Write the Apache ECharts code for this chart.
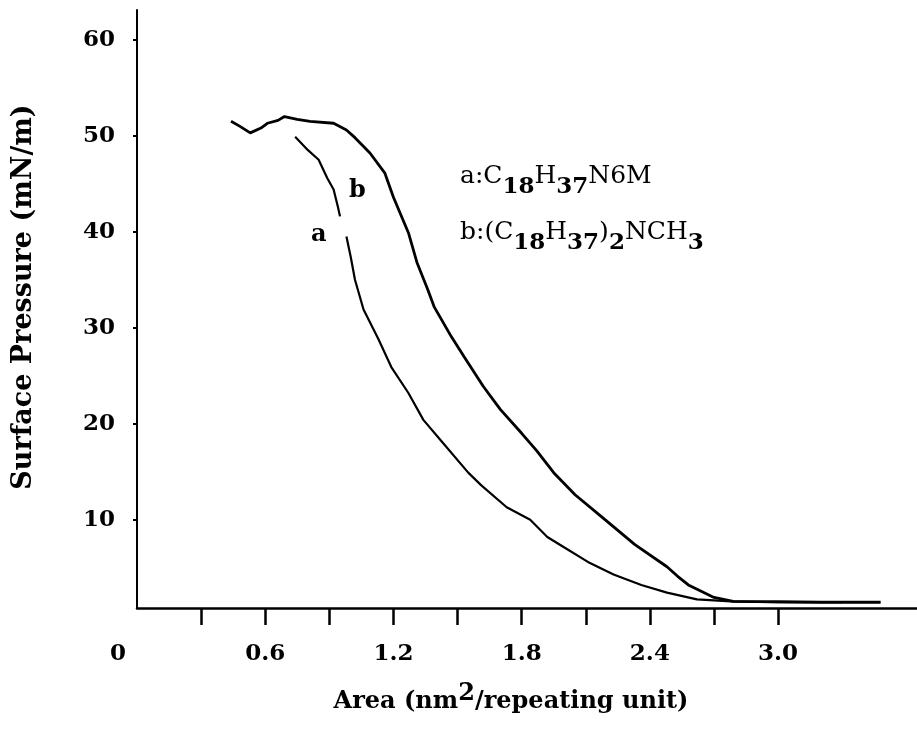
<!DOCTYPE html>
<html style="height: 100%">
<head>
    <meta charset="UTF-8" />
    <title>Surface pressure isotherms</title>
    <script src="https://cdn.jsdelivr.net/npm/echarts@6.0.0/dist/echarts.min.js"></script>
</head>
<body style="height: 100%; margin: 0; background: #fff">
    <div id="main" style="width: 917px; height: 741px; margin: 0"></div>
    <script type="text/javascript">
        // curve a: C18H37N6M  (null = gap in the trace)
        var aArea = [0.74, 0.80, 0.85, 0.89, 0.92, 0.94, 0.95, 0.965, 0.98, 1.00, 1.02, 1.06, 1.13, 1.19, 1.27, 1.34, 1.42, 1.55, 1.61, 1.73, 1.84, 1.92, 2.00, 2.11, 2.23, 2.36, 2.48, 2.62, 2.78, 3.00, 3.30];
        var aPres = [49.9, 48.5, 47.5, 45.6, 44.4, 42.6, 41.6, null, 39.5, 37.4, 35.0, 31.9, 28.8, 25.9, 23.2, 20.4, 18.3, 14.9, 13.6, 11.3, 10.0, 8.2, 7.1, 5.6, 4.3, 3.2, 2.4, 1.7, 1.5, 1.4, 1.4];
        // curve b: (C18H37)2NCH3
        var bArea = [0.44, 0.48, 0.53, 0.58, 0.61, 0.66, 0.69, 0.75, 0.81, 0.92, 0.98, 1.02, 1.09, 1.16, 1.20, 1.27, 1.31, 1.36, 1.39, 1.47, 1.53, 1.62, 1.70, 1.80, 1.87, 1.95, 2.05, 2.19, 2.33, 2.48, 2.53, 2.58, 2.70, 2.79, 3.00, 3.20, 3.48];
        var bPres = [51.5, 51.0, 50.3, 50.8, 51.3, 51.6, 52.0, 51.7, 51.5, 51.3, 50.6, 49.8, 48.2, 46.1, 43.6, 39.9, 36.8, 34.0, 32.2, 29.1, 27.0, 23.9, 21.5, 19.0, 17.2, 14.9, 12.6, 10.0, 7.4, 5.1, 4.1, 3.2, 1.9, 1.5, 1.45, 1.4, 1.4];

        var xTicks = [0.3, 0.6, 0.9, 1.2, 1.5, 1.8, 2.1, 2.4, 2.7, 3.0];
        var xLabels = [0, 0.6, 1.2, 1.8, 2.4, 3.0];
        var yLabels = [10, 20, 30, 40, 50, 60];

        var FONT = '"DejaVu Serif", "Liberation Serif", serif';

        function pairs(xs, ys) {
            return xs.map(function (x, i) {
                return ys[i] === null ? [x, '-'] : [x, ys[i]];
            });
        }

        // subscript style for the formula labels
        var formulaRich = {
            m: { fontFamily: FONT, fontSize: 25, fill: '#000', verticalAlign: 'top', lineHeight: 28 },
            s: { fontFamily: FONT, fontWeight: 'bold', fontSize: 23, fill: '#000', verticalAlign: 'top', lineHeight: 28, padding: [12, 0, 0, 0] }
        };

        var myChart = echarts.init(document.getElementById('main'));
        var option = {
            animation: false,
            backgroundColor: '#fff',
            grid: { left: 137, right: 0, top: 10, bottom: 133 },
            xAxis: {
                type: 'value',
                min: 0,
                max: 3.65,
                name: 'Area (nm{sup|2}/repeating unit)',
                nameLocation: 'middle',
                nameGap: 74,
                nameTextStyle: {
                    fontFamily: FONT, fontWeight: 'bold', fontSize: 24, color: '#000',
                    padding: [0, 32, 0, 0],
                    rich: { sup: { fontFamily: FONT, fontWeight: 'bold', fontSize: 24, color: '#000', padding: [0, 0, 16, 0] } }
                },
                axisLine: { lineStyle: { color: '#000', width: 2.5 } },
                axisTick: { show: true, customValues: xTicks, length: 17, inside: false, lineStyle: { color: '#000', width: 2.5 } },
                axisLabel: {
                    customValues: xLabels,
                    margin: 35,
                    fontFamily: FONT, fontWeight: 'bold', fontSize: 23, color: '#000',
                    formatter: function (v) {
                        return v === 0 ? '{z|0}' : v.toFixed(1);
                    },
                    rich: { z: { fontFamily: FONT, fontWeight: 'bold', fontSize: 23, color: '#000', padding: [0, 38, 0, 0] } }
                },
                splitLine: { show: false }
            },
            yAxis: {
                type: 'value',
                min: 0.8,
                max: 63.1,
                name: 'Surface Pressure (mN/m)',
                nameLocation: 'middle',
                nameGap: 100,
                nameTextStyle: { fontFamily: FONT, fontWeight: 'bold', fontSize: 27, color: '#000', padding: [0, 0, 0, 24] },
                axisLine: { show: true, lineStyle: { color: '#000', width: 2 } },
                axisTick: { show: true, customValues: yLabels, length: 4, lineStyle: { color: '#000', width: 2 } },
                axisLabel: {
                    customValues: yLabels,
                    margin: 22,
                    fontFamily: FONT, fontWeight: 'bold', fontSize: 23, color: '#000'
                },
                splitLine: { show: false }
            },
            graphic: [
                { type: 'text', left: 311, top: 223, style: { text: 'a', font: 'bold 24px ' + FONT, fill: '#000' } },
                { type: 'text', left: 349, top: 179, style: { text: 'b', font: 'bold 24px ' + FONT, fill: '#000' } },
                {
                    type: 'text', left: 460, top: 164,
                    style: { text: '{m|a:C}{s|18}{m|H}{s|37}{m|N6M}', rich: formulaRich }
                },
                {
                    type: 'text', left: 460, top: 220,
                    style: { text: '{m|b:(C}{s|18}{m|H}{s|37}{m|)}{s|2}{m|NCH}{s|3}', rich: formulaRich }
                }
            ],
            series: [
                {
                    name: 'a',
                    type: 'line',
                    data: pairs(aArea, aPres),
                    showSymbol: false,
                    connectNulls: false,
                    lineStyle: { color: '#000', width: 2.2 }
                },
                {
                    name: 'b',
                    type: 'line',
                    data: pairs(bArea, bPres),
                    showSymbol: false,
                    lineStyle: { color: '#000', width: 2.8 }
                }
            ]
        };
        myChart.setOption(option);
    </script>
</body>
</html>
